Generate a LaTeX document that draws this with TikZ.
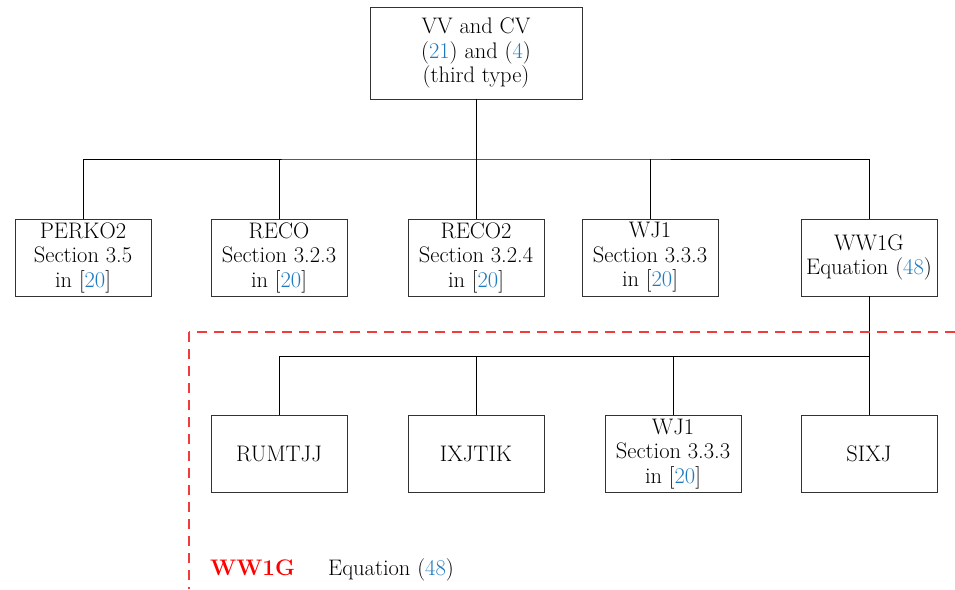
\documentclass[tikz,border=0pt]{standalone}
\usepackage{xcolor}
\definecolor{citeblue}{RGB}{30,122,190}
\definecolor{dashred}{RGB}{240,60,60}
\definecolor{boxline}{RGB}{50,50,50}
\newcommand{\cb}[1]{\textcolor{citeblue}{#1}}
\begin{document}
\begin{tikzpicture}[x=1pt,y=-1pt,
  box/.style={draw=boxline,line width=0.9pt,minimum width=136pt,minimum height=77pt,
    align=center,inner sep=0pt,font=\fontsize{22.5}{24.5}\selectfont},
  conn/.style={line width=0.9pt,black},
  bound/.style={dashred,line width=1.5pt,dash pattern=on 10pt off 7pt}]
\useasboundingbox (0,0) rectangle (955,589);
\node[box,minimum width=212pt,minimum height=92pt] (top) at (476,53) {VV and CV\\(\cb{21}) and (\cb{4})\\(third type)};
\node[box] (p1) at (83,257.5) {PERKO2\\Section 3.5\\in [\cb{20}]};
\node[box] (p2) at (279,257.5) {RECO\\Section 3.2.3\\in [\cb{20}]};
\node[box] (p3) at (476,257.5) {RECO2\\Section 3.2.4\\in [\cb{20}]};
\node[box] (p4) at (650,257.5) {WJ1\\Section 3.3.3\\in [\cb{20}]};
\node[box] (p5) at (869,257.5) {WW1G\\Equation (\cb{48})};
\node[box] (q1) at (279,454) {RUMTJJ};
\node[box] (q2) at (476,454) {IXJTIK};
\node[box] (q3) at (673,454) {WJ1\\Section 3.3.3\\in [\cb{20}]};
\node[box] (q4) at (869,454) {SIXJ};
\coordinate (bus1) at (476,159);
\coordinate (bus2) at (869,356);
\draw[conn] (top.south) -- (bus1);
\draw[conn] (p1.north) |- (bus1) -| (p5.north);
\draw[conn] (p2.north) -- (p2.north |- bus1);
\draw[conn] (p3.north) -- (bus1);
\draw[conn] (p4.north) -- (p4.north |- bus1);
\draw[conn] (p5.south) -- (q4.north);
\draw[conn] (q1.north) |- (bus2);
\draw[conn] (q2.north) -- (q2.north |- bus2);
\draw[conn] (q3.north) -- (q3.north |- bus2);
\coordinate (d1) at (955,332);
\coordinate (d2) at (189,332);
\coordinate (d3) at (189,589);
\draw[bound] (d1) -- (d2);
\draw[bound] (d2) -- (d3);
\node[anchor=base west,inner sep=0pt,text=red,font=\fontsize{22.5}{24.5}\selectfont\bfseries] (lab) at (210,575) {WW1G};
\node[anchor=base west,inner sep=0pt,font=\fontsize{22.5}{24.5}\selectfont] (eq) at (328,575) {Equation (\cb{48})};
\end{tikzpicture}
\end{document}
